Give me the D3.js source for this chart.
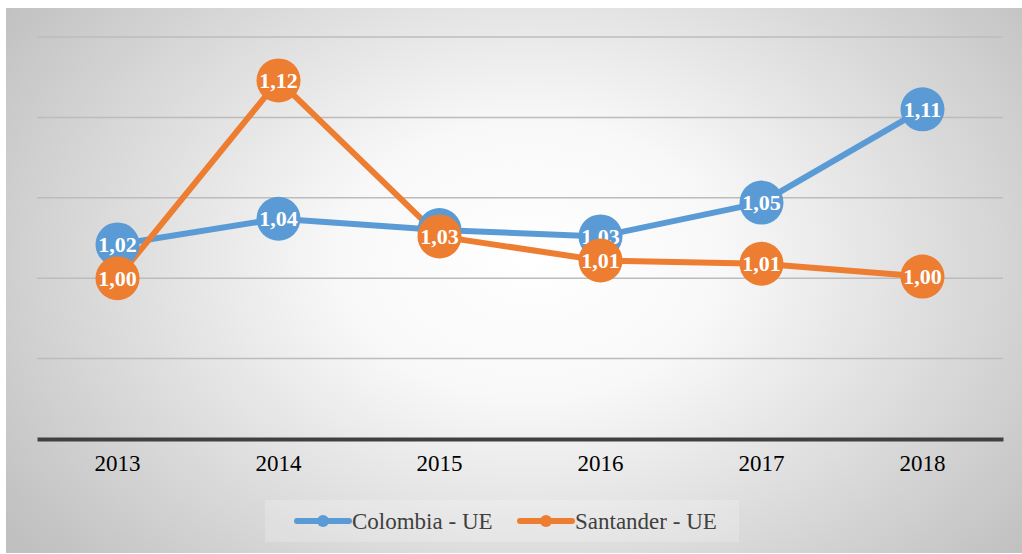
<!DOCTYPE html>
<html><head><meta charset="utf-8">
<script src="https://cdn.jsdelivr.net/npm/d3@7"></script>
<style>html,body{margin:0;padding:0;background:#fff;}svg{display:block;}
svg text{font-family:"Liberation Serif","DejaVu Serif","Times New Roman",serif;}</style>
</head><body>
<svg id="c" width="1022" height="554"></svg>
<script>
const years = ["2013","2014","2015","2016","2017","2018"];
const colombia = [1.021, 1.037, 1.030, 1.026, 1.047, 1.105];
const santander = [1.000, 1.123, 1.026, 1.011, 1.009, 1.001];
const colombiaLabels = ["1,02","1,04","1,03","1,03","1,05","1,11"];
const santanderLabels = ["1,00","1,12","1,03","1,01","1,01","1,00"];
const yTicks = [0.90, 0.95, 1.00, 1.05, 1.10, 1.15];
const seriesNames = ["Colombia - UE","Santander - UE"];
const colors = ["#5B9BD5","#ED7D31"];

const svg = d3.select("#c");
const defs = svg.append("defs");
const g = defs.append("radialGradient").attr("id","bg")
  .attr("gradientUnits","userSpaceOnUse").attr("cx",530).attr("cy",260).attr("r",640)
  .attr("gradientTransform","translate(530,260) scale(1,0.72) translate(-530,-260)");
g.append("stop").attr("offset","0").attr("stop-color","#ffffff");
g.append("stop").attr("offset","0.3").attr("stop-color","#f8f8f8");
g.append("stop").attr("offset","1").attr("stop-color","#c0c0c0");

svg.append("rect").attr("x",6).attr("y",8).attr("width",1016).attr("height",545).attr("fill","url(#bg)");

const x = d3.scaleBand().domain(years).range([37,1003]);
const y = d3.scaleLinear().domain([0.90,1.15]).range([439,37]);

// gridlines
svg.append("g").selectAll("line").data(yTicks.filter(t=>t>0.9)).join("line")
  .attr("x1",37).attr("x2",1003).attr("y1",d=>y(d)).attr("y2",d=>y(d))
  .attr("stroke","#bcbcbc").attr("stroke-width",1.5);

// x axis
const xAxis = svg.append("g").attr("transform","translate(0,439)")
  .call(d3.axisBottom(x).tickSize(0).tickPadding(16));
xAxis.attr("font-family",null).attr("font-size",null);
xAxis.select(".domain").attr("stroke","#404040").attr("stroke-width",4);
xAxis.selectAll("text").attr("font-size",23).attr("fill","#000");

const line = d3.line().x((d,i)=>x(years[i])+x.bandwidth()/2).y(d=>y(d));
const data = [colombia, santander];
const labels = [colombiaLabels, santanderLabels];

data.forEach((s,k)=>{
  svg.append("path").datum(s).attr("d",line).attr("fill","none")
    .attr("stroke",colors[k]).attr("stroke-width",6).attr("stroke-linejoin","round");
});
data.forEach((s,k)=>{
  const gg = svg.append("g");
  gg.selectAll("circle").data(s).join("circle")
    .attr("cx",(d,i)=>x(years[i])+x.bandwidth()/2).attr("cy",d=>y(d)).attr("r",22)
    .attr("fill",colors[k]);
  gg.selectAll("text").data(s).join("text")
    .attr("x",(d,i)=>x(years[i])+x.bandwidth()/2).attr("y",d=>y(d)+7.5)
    .attr("text-anchor","middle")
    .attr("font-weight","bold").attr("font-size",22).attr("fill","#fff")
    .text((d,i)=>labels[k][i]);
});

// legend
svg.append("rect").attr("x",265).attr("y",500).attr("width",474).attr("height",42)
  .attr("fill","#ffffff").attr("opacity",0.2);
const lx = [297, 520];
seriesNames.forEach((n,k)=>{
  const lg = svg.append("g");
  lg.append("line").attr("x1",lx[k]).attr("x2",lx[k]+52).attr("y1",521).attr("y2",521)
    .attr("stroke",colors[k]).attr("stroke-width",6).attr("stroke-linecap","round");
  lg.append("circle").attr("cx",lx[k]+26).attr("cy",521).attr("r",6).attr("fill",colors[k]);
  lg.append("text").attr("x",lx[k]+55).attr("y",529).attr("font-size",23)
    .attr("fill","#404040").text(n);
});
</script>
</body></html>
